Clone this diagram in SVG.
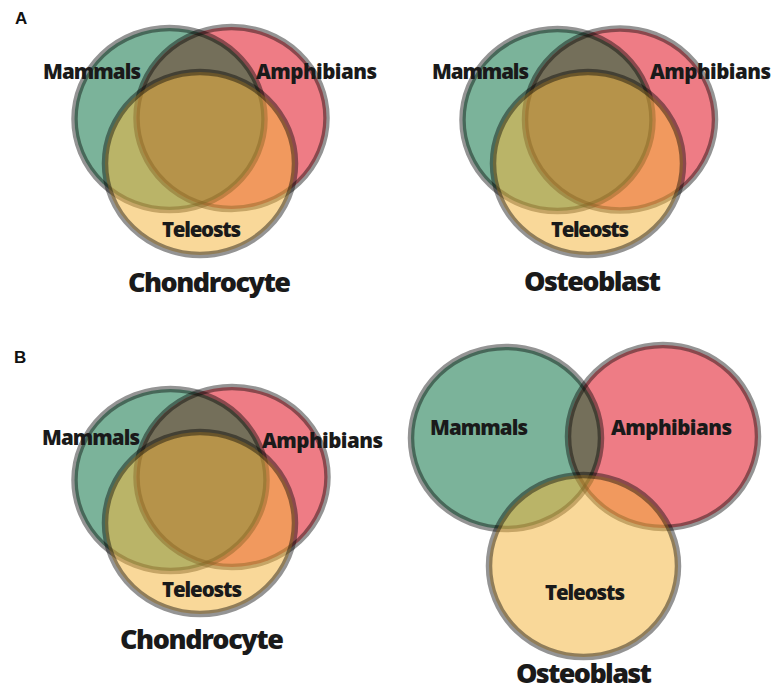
<svg xmlns="http://www.w3.org/2000/svg" width="774" height="691" viewBox="0 0 774 691">
<style>
.m{fill:#7BB39A}
.a{fill:#EE7C85}
.ma{fill:#746F5A}
.t{fill:#F3B43B;fill-opacity:0.52}
.ol{fill:none;stroke:#000;stroke-opacity:0.42;stroke-width:6.5}
.lbl{font-family:"Open Sans","Liberation Sans",sans-serif;font-weight:800;fill:#1a1a1a;font-size:20.5px;text-anchor:middle}
.ttl{font-size:27px}
.pl{font-family:"Liberation Sans",Arial,sans-serif;font-weight:700;font-size:17px;fill:#111}
</style>
<defs>
<clipPath id="c1"><ellipse cx="169.5" cy="119" rx="95" ry="91"/></clipPath>
<clipPath id="c2"><ellipse cx="557.5" cy="120" rx="95" ry="91"/></clipPath>
<clipPath id="c3"><ellipse cx="170.5" cy="480" rx="96" ry="91"/></clipPath>
<clipPath id="c4"><ellipse cx="506" cy="438" rx="95" ry="91"/></clipPath>
</defs>
<rect width="774" height="691" fill="#fff"/>
<text class="pl" x="15" y="24">A</text>
<text class="pl" x="14" y="363">B</text>

<g id="venn-a-chondrocyte">
<ellipse id="a1-mammals" class="m" cx="169.5" cy="119" rx="95" ry="91"/>
<ellipse id="a1-amphibians" class="a" cx="231.5" cy="118" rx="95" ry="91"/>
<ellipse class="ma" clip-path="url(#c1)" cx="231.5" cy="118" rx="95" ry="91"/>
<ellipse class="ol" cx="169.5" cy="119" rx="95" ry="91"/>
<ellipse class="ol" cx="231.5" cy="118" rx="95" ry="91"/>
<ellipse id="a1-teleosts" class="t" cx="200" cy="163.5" rx="95" ry="91.5"/>
<ellipse class="ol" cx="200" cy="163.5" rx="95" ry="91.5"/>
<text class="lbl" x="92" y="79" textLength="98">Mammals</text>
<text class="lbl" x="316.5" y="79" textLength="121">Amphibians</text>
<text class="lbl" x="201.5" y="237" textLength="79">Teleosts</text>
<text class="lbl ttl" x="209.5" y="292" textLength="163">Chondrocyte</text>
</g>

<g id="venn-a-osteoblast">
<ellipse id="a2-mammals" class="m" cx="557.5" cy="120" rx="95" ry="91"/>
<ellipse id="a2-amphibians" class="a" cx="620" cy="119.5" rx="95" ry="91"/>
<ellipse class="ma" clip-path="url(#c2)" cx="620" cy="119.5" rx="95" ry="91"/>
<ellipse class="ol" cx="557.5" cy="120" rx="95" ry="91"/>
<ellipse class="ol" cx="620" cy="119.5" rx="95" ry="91"/>
<ellipse id="a2-teleosts" class="t" cx="588" cy="163.5" rx="95" ry="91.5"/>
<ellipse class="ol" cx="588" cy="163.5" rx="95" ry="91.5"/>
<text class="lbl" x="480.5" y="79" textLength="97">Mammals</text>
<text class="lbl" x="710.5" y="79" textLength="121">Amphibians</text>
<text class="lbl" x="590" y="237" textLength="78">Teleosts</text>
<text class="lbl ttl" x="592.5" y="291" textLength="137">Osteoblast</text>
</g>

<g id="venn-b-chondrocyte">
<ellipse id="b1-mammals" class="m" cx="170.5" cy="480" rx="96" ry="91"/>
<ellipse id="b1-amphibians" class="a" cx="232" cy="477" rx="95.5" ry="90"/>
<ellipse class="ma" clip-path="url(#c3)" cx="232" cy="477" rx="95.5" ry="90"/>
<ellipse class="ol" cx="170.5" cy="480" rx="96" ry="91"/>
<ellipse class="ol" cx="232" cy="477" rx="95.5" ry="90"/>
<ellipse id="b1-teleosts" class="t" cx="200" cy="523" rx="95" ry="91"/>
<ellipse class="ol" cx="200" cy="523" rx="95" ry="91"/>
<text class="lbl" x="91" y="445" textLength="98">Mammals</text>
<text class="lbl" x="322.5" y="448" textLength="121">Amphibians</text>
<text class="lbl" x="202" y="597" textLength="80">Teleosts</text>
<text class="lbl ttl" x="202" y="649" textLength="164">Chondrocyte</text>
</g>

<g id="venn-b-osteoblast">
<ellipse id="b2-mammals" class="m" cx="506" cy="438" rx="95" ry="91"/>
<ellipse id="b2-amphibians" class="a" cx="663" cy="436.5" rx="95" ry="91.5"/>
<ellipse class="ma" clip-path="url(#c4)" cx="663" cy="436.5" rx="95" ry="91.5"/>
<ellipse class="ol" cx="506" cy="438" rx="95" ry="91"/>
<ellipse class="ol" cx="663" cy="436.5" rx="95" ry="91.5"/>
<ellipse id="b2-teleosts" class="t" cx="583.5" cy="566" rx="94.5" ry="91"/>
<ellipse class="ol" cx="583.5" cy="566" rx="94.5" ry="91"/>
<text class="lbl" x="479" y="435" textLength="98">Mammals</text>
<text class="lbl" x="671.5" y="435" textLength="121">Amphibians</text>
<text class="lbl" x="585" y="600" textLength="80">Teleosts</text>
<text class="lbl ttl" x="584" y="683" textLength="136">Osteoblast</text>
</g>
</svg>
